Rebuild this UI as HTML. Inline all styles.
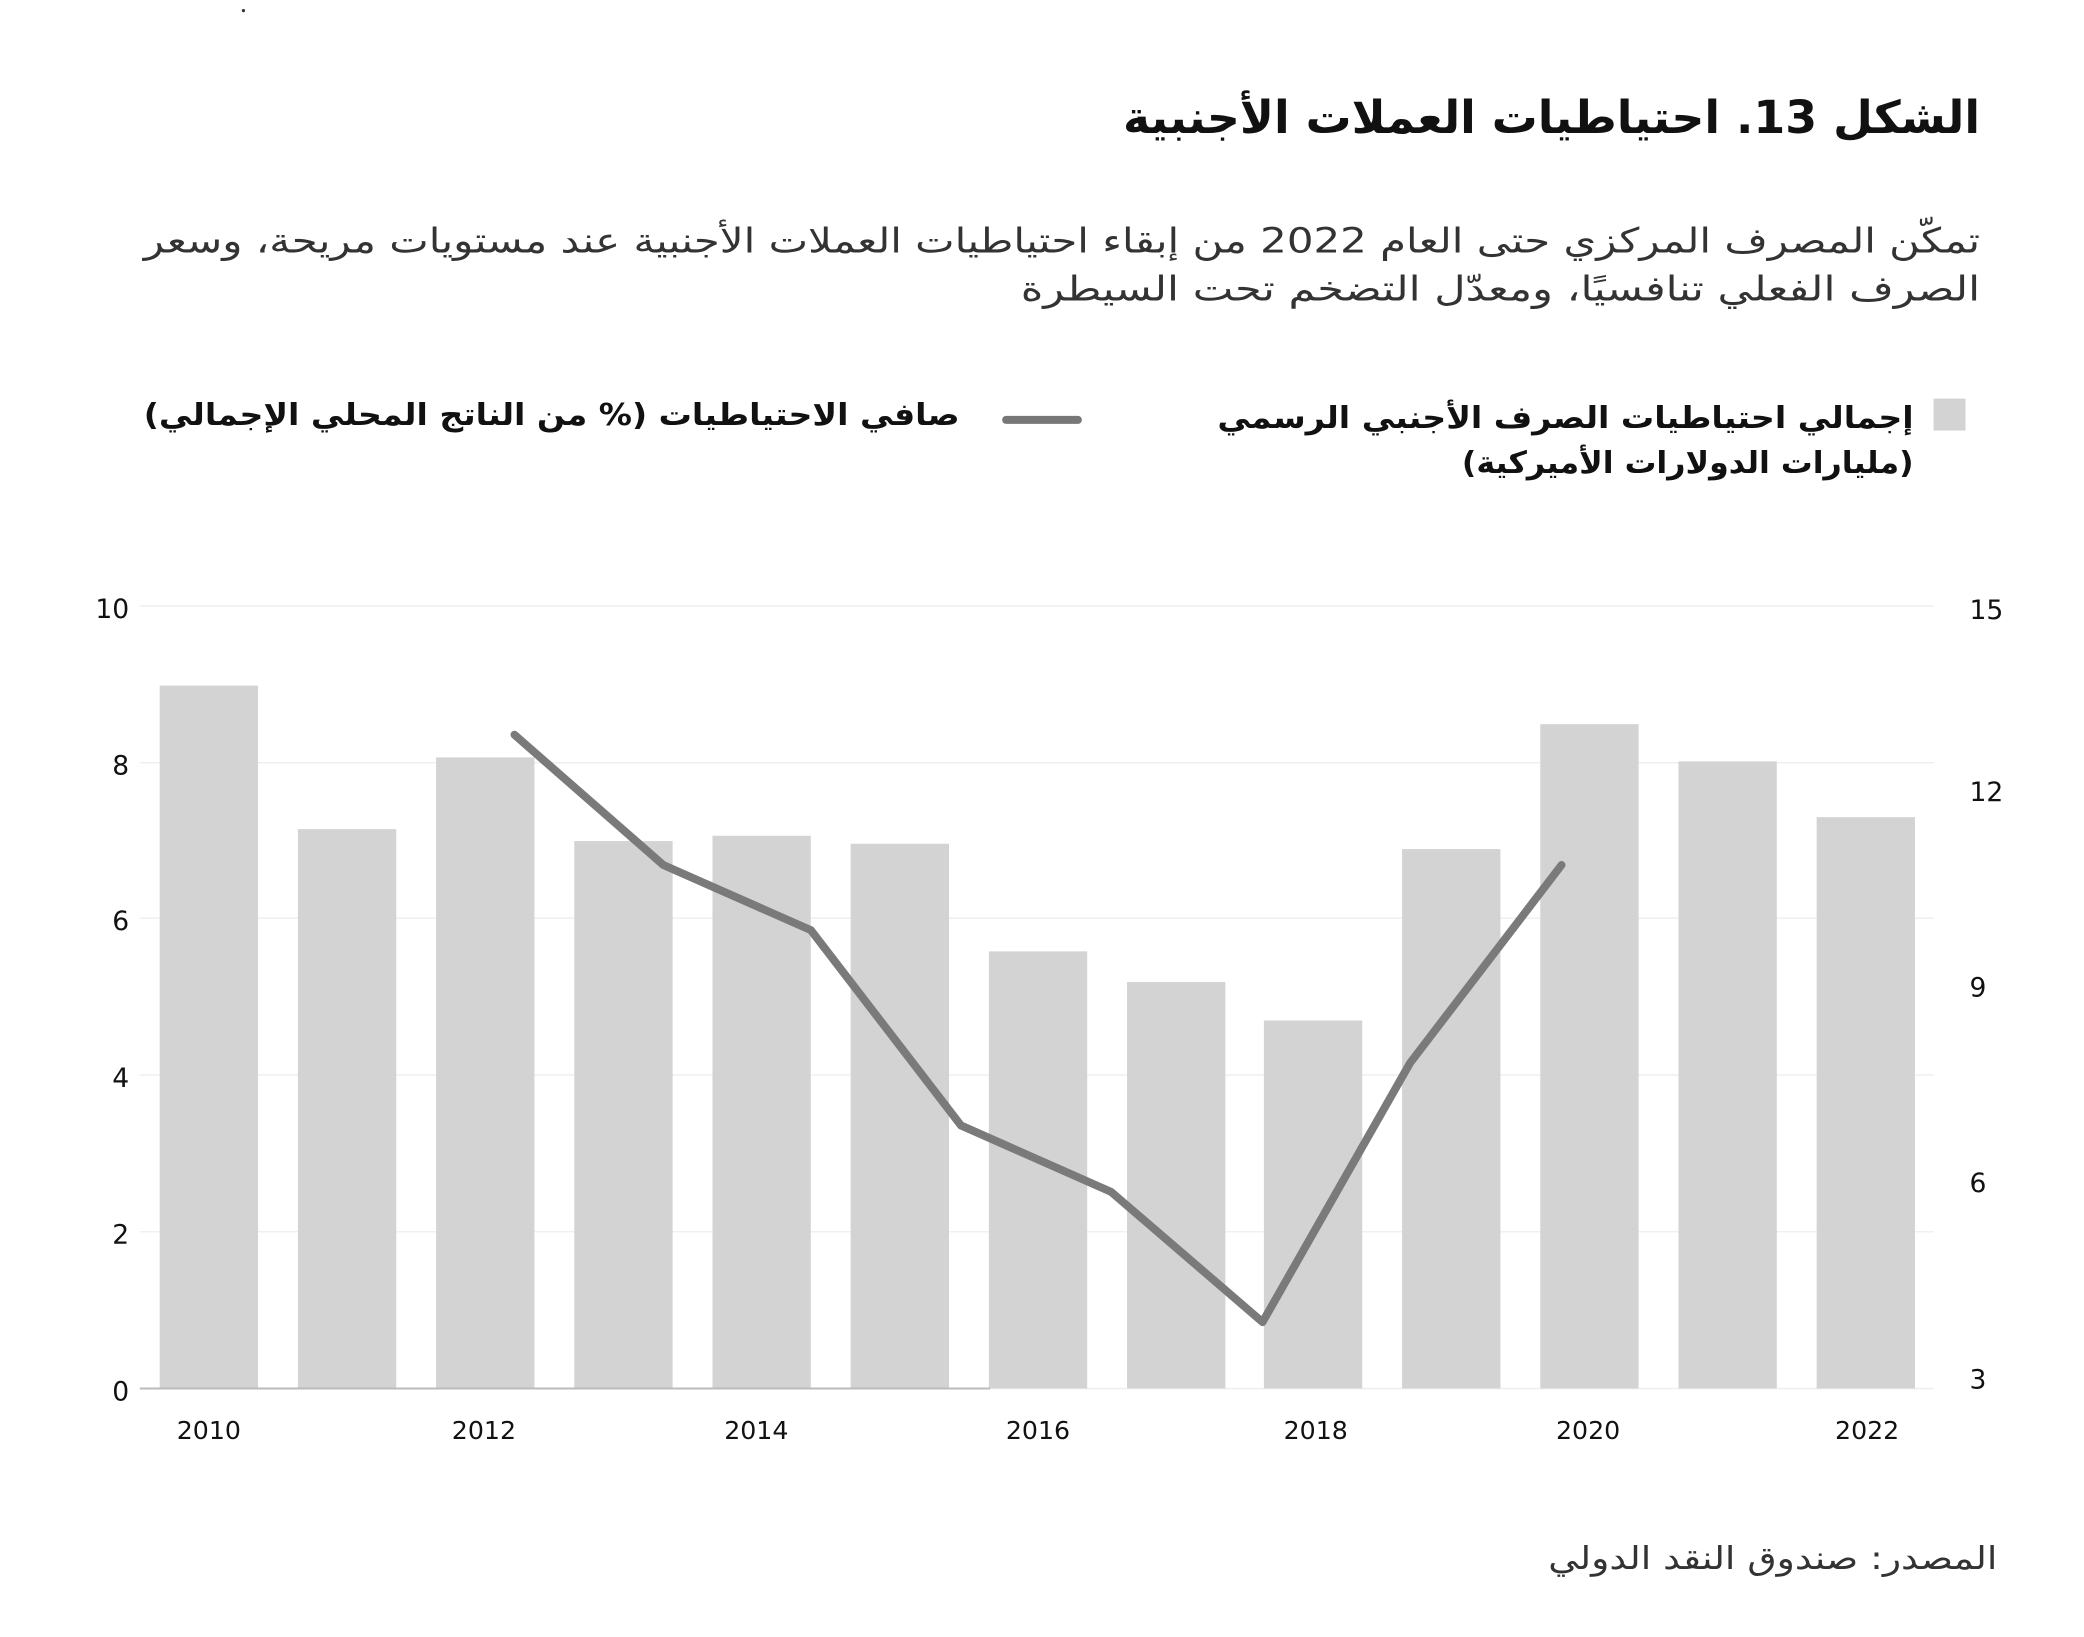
<!DOCTYPE html>
<html><head><meta charset="utf-8"><style>
html,body{margin:0;padding:0;background:#fff;}
svg{display:block;}
text{font-family:"DejaVu Sans","Liberation Sans",sans-serif;fill:#111;}
</style></head><body>
<svg width="2084" height="1637" viewBox="0 0 1568 1232" xmlns="http://www.w3.org/2000/svg">
<rect width="1568" height="1232" fill="#fff"/>
<circle cx="183" cy="8" r="1.2" fill="#333"/>
<text x="1490" y="100" direction="rtl" text-anchor="start" font-size="34" font-weight="bold" textLength="645" lengthAdjust="spacingAndGlyphs">الشكل 13. احتياطيات العملات الأجنبية</text>
<text x="1490" y="190" direction="rtl" text-anchor="start" font-size="26" style="fill:#333" textLength="1382" lengthAdjust="spacingAndGlyphs">تمكّن المصرف المركزي حتى العام 2022 من إبقاء احتياطيات العملات الأجنبية عند مستويات مريحة، وسعر</text>
<text x="1490" y="226" direction="rtl" text-anchor="start" font-size="26" style="fill:#333" textLength="722" lengthAdjust="spacingAndGlyphs">الصرف الفعلي تنافسيًا، ومعدّل التضخم تحت السيطرة</text>
<rect x="1455" y="300" width="24" height="24" fill="#d3d3d3"/>
<text x="1440" y="322" direction="rtl" text-anchor="start" font-size="23" font-weight="bold" textLength="524" lengthAdjust="spacingAndGlyphs">إجمالي احتياطيات الصرف الأجنبي الرسمي</text>
<text x="1440" y="356" direction="rtl" text-anchor="start" font-size="23" font-weight="bold" textLength="340" lengthAdjust="spacingAndGlyphs">(مليارات الدولارات الأميركية)</text>
<line x1="757" y1="316" x2="811" y2="316" stroke="#777" stroke-width="6" stroke-linecap="round"/>
<text x="722" y="320" direction="rtl" text-anchor="start" font-size="23" font-weight="bold" textLength="614" lengthAdjust="spacingAndGlyphs">صافي الاحتياطيات (% من الناتج المحلي الإجمالي)</text>
<g stroke="#eee" stroke-width="1">
<line x1="105" y1="456" x2="1455" y2="456"/><line x1="105" y1="574" x2="1455" y2="574"/>
<line x1="105" y1="691" x2="1455" y2="691"/><line x1="105" y1="809" x2="1455" y2="809"/>
<line x1="105" y1="927" x2="1455" y2="927"/><line x1="105" y1="1045" x2="1455" y2="1045"/>
</g>
<g fill="#d3d3d3">
<rect x="120" y="516" width="74" height="529"/>
<rect x="224" y="624" width="74" height="421"/>
<rect x="328" y="570" width="74" height="475"/>
<rect x="432" y="633" width="74" height="412"/>
<rect x="536" y="629" width="74" height="416"/>
<rect x="640" y="635" width="74" height="410"/>
<rect x="744" y="716" width="74" height="329"/>
<rect x="848" y="739" width="74" height="306"/>
<rect x="951" y="768" width="74" height="277"/>
<rect x="1055" y="639" width="74" height="406"/>
<rect x="1159" y="545" width="74" height="500"/>
<rect x="1263" y="573" width="74" height="472"/>
<rect x="1367" y="615" width="74" height="430"/>
</g>
<line x1="105" y1="1045" x2="745" y2="1045" stroke="#bbb" stroke-width="1.5"/>
<polyline points="387,553 499,651 610,700 723,847 836,897 950,995 1061,800 1175,651" fill="none" stroke="#7a7a7a" stroke-width="6" stroke-linecap="round" stroke-linejoin="round"/>
<g font-size="20" text-anchor="end">
<text x="97" y="465">10</text><text x="97" y="583">8</text><text x="97" y="700">6</text>
<text x="97" y="818">4</text><text x="97" y="936">2</text><text x="97" y="1054">0</text>
</g>
<g font-size="20">
<text x="1482" y="466">15</text><text x="1482" y="603">12</text><text x="1482" y="750">9</text>
<text x="1482" y="897">6</text><text x="1482" y="1045">3</text>
</g>
<g font-size="19" text-anchor="middle">
<text x="157" y="1083">2010</text><text x="364" y="1083">2012</text><text x="569" y="1083">2014</text>
<text x="781" y="1083">2016</text><text x="990" y="1083">2018</text><text x="1195" y="1083">2020</text>
<text x="1405" y="1083">2022</text>
</g>
<text x="1503" y="1181" direction="rtl" text-anchor="start" font-size="24" style="fill:#333" textLength="338" lengthAdjust="spacingAndGlyphs">المصدر: صندوق النقد الدولي</text>
</svg>
</body></html>
